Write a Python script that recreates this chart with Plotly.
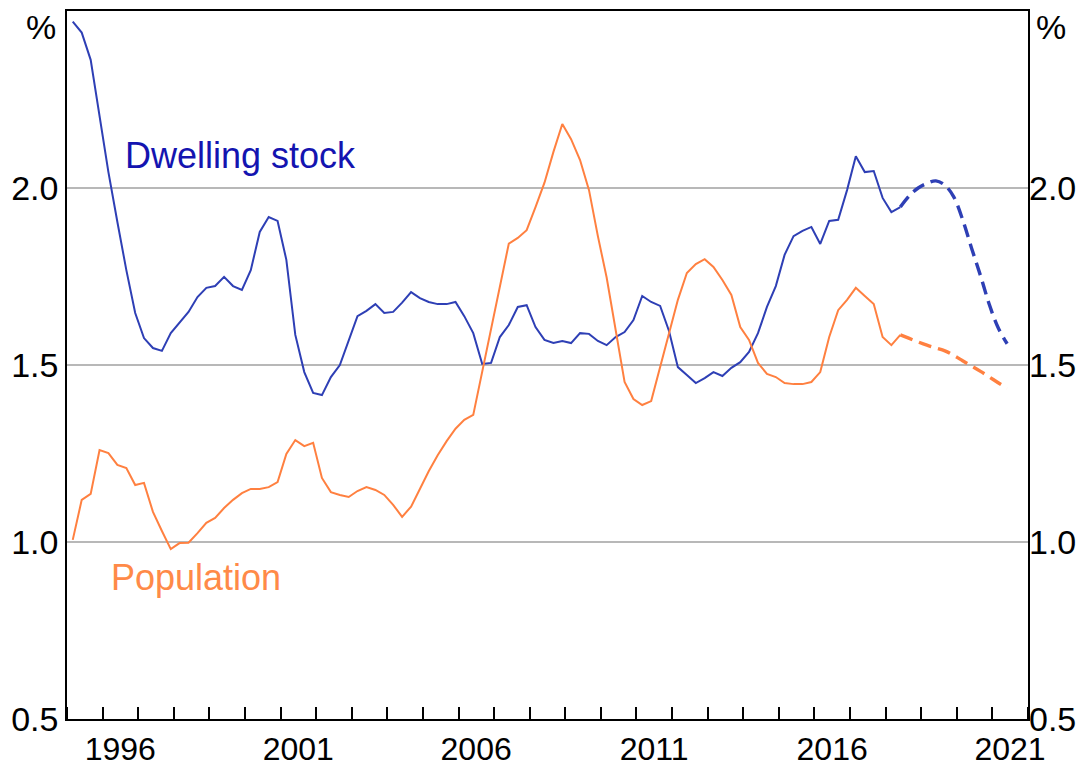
import pandas as pd
import plotly.graph_objects as go

# Quarterly year-ended growth, %
dwelling_actual = [
    2.470, 2.439, 2.362, 2.198, 2.045, 1.904, 1.768, 1.647, 1.576, 1.548,
    1.540, 1.590, 1.619, 1.650, 1.692, 1.718, 1.723, 1.749, 1.723, 1.712,
    1.768, 1.876, 1.918, 1.907, 1.797, 1.585, 1.480, 1.421, 1.415, 1.466,
    1.500, 1.571, 1.638, 1.653, 1.672, 1.647, 1.650, 1.676, 1.706, 1.689,
    1.678, 1.672, 1.672, 1.678, 1.638, 1.590, 1.503, 1.506, 1.579, 1.613,
    1.664, 1.669, 1.607, 1.571, 1.562, 1.568, 1.562, 1.590, 1.588, 1.568,
    1.556, 1.579, 1.593, 1.627, 1.695, 1.678, 1.667, 1.596, 1.494, 1.472,
    1.449, 1.463, 1.480, 1.469, 1.492, 1.508, 1.537, 1.590, 1.664, 1.723,
    1.811, 1.864, 1.879, 1.890, 1.842, 1.907, 1.910, 1.994, 2.090, 2.045,
    2.048, 1.972, 1.932, 1.946,
]
population_actual = [
    1.006, 1.119, 1.136, 1.260, 1.251, 1.218, 1.209, 1.161, 1.167, 1.085,
    1.031, 0.980, 0.997, 0.998, 1.025, 1.054, 1.068, 1.096, 1.119, 1.138,
    1.150, 1.150, 1.155, 1.169, 1.249, 1.288, 1.271, 1.280, 1.181, 1.141,
    1.133, 1.127, 1.144, 1.155, 1.147, 1.133, 1.105, 1.071, 1.100, 1.150,
    1.200, 1.245, 1.285, 1.320, 1.345, 1.359, 1.482, 1.605, 1.727, 1.843,
    1.859, 1.881, 1.946, 2.015, 2.102, 2.181, 2.138, 2.079, 1.994, 1.864,
    1.747, 1.605, 1.452, 1.404, 1.387, 1.398, 1.494, 1.585, 1.684, 1.760,
    1.785, 1.799, 1.777, 1.740, 1.698, 1.607, 1.571, 1.506, 1.475, 1.466,
    1.449, 1.446, 1.446, 1.452, 1.480, 1.579, 1.655, 1.684, 1.718, 1.695,
    1.672, 1.579, 1.556, 1.585,
]
# Forecasts (quarterly, starting at last actual quarter)
dwelling_forecast = [1.946, 1.978, 2.000, 2.013, 2.020, 2.008, 1.975, 1.911,
                     1.830, 1.752, 1.670, 1.605, 1.560]
population_forecast = [1.585, 1.575, 1.565, 1.556, 1.548, 1.540, 1.527, 1.512,
                       1.497, 1.482, 1.466, 1.450, 1.434]

actual_dates = pd.date_range("1995-03-01", periods=len(dwelling_actual), freq="3MS")
forecast_dates = pd.date_range(actual_dates[-1], periods=len(dwelling_forecast), freq="3MS")

year_labels = ["1996", "2001", "2006", "2011", "2016", "2021"]
y_ticks = [0.5, 1.0, 1.5, 2.0]

BLUE = "#2E3FB5"
BLUE_TXT = "#1414B0"
ORANGE = "#FF8040"
ORANGE_TXT = "#FF8A48"
FONT = "Liberation Sans, Arial, sans-serif"
TICK_SIZE = 34
XTICK_SIZE = 32

fig = go.Figure()
fig.add_trace(go.Scatter(x=actual_dates, y=dwelling_actual, mode="lines",
                         line=dict(color=BLUE, width=2)))
fig.add_trace(go.Scatter(x=forecast_dates, y=dwelling_forecast, mode="lines",
                         line=dict(color=BLUE, width=3.4, dash="13px,7px", shape="spline")))
fig.add_trace(go.Scatter(x=actual_dates, y=population_actual, mode="lines",
                         line=dict(color=ORANGE, width=2)))
fig.add_trace(go.Scatter(x=forecast_dates, y=population_forecast, mode="lines",
                         line=dict(color=ORANGE, width=3.4, dash="13px,7px", shape="spline")))
# invisible trace to activate the right axis
fig.add_trace(go.Scatter(x=actual_dates[:1], y=dwelling_actual[:1], yaxis="y2",
                         mode="lines", line=dict(width=0), hoverinfo="skip"))

# The page body adds an 8px offset, so the figure is 8px smaller than the window
fig.update_layout(
    width=1077, height=761,
    margin=dict(l=59, r=57, t=3, b=50),
    paper_bgcolor="white", plot_bgcolor="white",
    showlegend=False,
    font=dict(family=FONT, size=TICK_SIZE, color="black"),
    xaxis=dict(
        type="date", automargin=False,
        range=["1995-01-01", "2022-01-01"],
        tickvals=[f"{y}-07-01" for y in year_labels],
        ticktext=year_labels,
        ticks="", showgrid=False, zeroline=False, ticklabelstandoff=1,
        showline=True, linecolor="black", linewidth=1.5, mirror=True,
        tickfont=dict(size=XTICK_SIZE),
        minor=dict(ticks="inside", dtick="M12", tick0="1995-01-01",
                   ticklen=12, tickwidth=1.5, tickcolor="black", showgrid=False),
    ),
    yaxis=dict(
        automargin=False,
        range=[0.5, 2.5], tickvals=y_ticks,
        ticktext=[f"{v:.1f}" for v in y_ticks],
        ticks="", showgrid=True, gridcolor="#B8B8B8", gridwidth=1.5,
        zeroline=False, showline=True, linecolor="black", linewidth=1.5,
        mirror=True, tickfont=dict(size=TICK_SIZE),
    ),
    yaxis2=dict(
        automargin=False,
        range=[0.5, 2.5], tickvals=y_ticks,
        ticktext=[f"{v:.1f}" for v in y_ticks],
        overlaying="y", side="right", ticks="", showgrid=False,
        zeroline=False, showline=False, tickfont=dict(size=TICK_SIZE),
    ),
    annotations=[
        dict(text="Dwelling stock", x="1999-11-20", y=2.093, xref="x", yref="y",
             showarrow=False, font=dict(size=36, color=BLUE_TXT)),
        dict(text="Population", x="1998-08-20", y=0.90, xref="x", yref="y",
             showarrow=False, font=dict(size=36, color=ORANGE_TXT)),
        dict(text="%", x=0, y=2.5, xref="paper", yref="y", xanchor="right",
             yanchor="middle", xshift=-9, yshift=-16, showarrow=False,
             font=dict(size=TICK_SIZE)),
        dict(text="%", x=1, y=2.5, xref="paper", yref="y", xanchor="left",
             yanchor="middle", xshift=6, yshift=-16, showarrow=False,
             font=dict(size=TICK_SIZE)),
    ],
)

fig.write_html("out.html")
